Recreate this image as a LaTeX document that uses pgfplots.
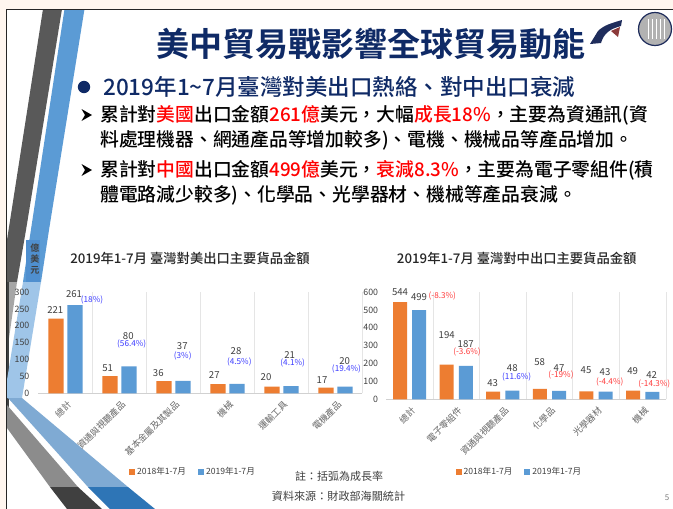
\documentclass[border=0pt]{standalone}
\usepackage{pgfplots}
\pgfplotsset{compat=1.18}
\usepackage{fontspec}
\setmainfont{Noto Sans CJK TC}[BoldFont={Noto Sans CJK TC Bold}]
\newfontfamily\med{Noto Sans CJK TC Medium}
\definecolor{navy}{HTML}{0F2A66}
\definecolor{orangeb}{HTML}{ED7D31}
\definecolor{blueb}{HTML}{5B9BD5}
\definecolor{txt}{HTML}{404040}
\definecolor{pblue}{HTML}{3B3BFF}
\definecolor{pred}{HTML}{FF3B3B}
\definecolor{cream}{HTML}{FFF6EF}
\definecolor{dgray}{HTML}{595959}
\definecolor{lgray}{HTML}{A6A6A6}
\definecolor{vdgray}{HTML}{404040}
\definecolor{lblue}{HTML}{9FC5E8}
\definecolor{mblue}{HTML}{4F8FCF}
\definecolor{fblue}{HTML}{7FAAD3}
\definecolor{sblue}{HTML}{2E75B6}
\definecolor{mgray}{HTML}{8C8C8C}
\definecolor{logob}{HTML}{1F2D5C}
\definecolor{logor}{HTML}{8C3A3A}
\newcommand{\dl}[3]{\node[font=\fontsize{9.6}{10}\selectfont,text=txt,inner sep=0pt] at (#1,#2) {#3};}
\newcommand{\pb}[3]{\node[font=\fontsize{8.2}{9}\selectfont,text=pblue,inner sep=0pt] at (#1,#2) {#3};}
\newcommand{\pr}[3]{\node[font=\fontsize{8.2}{9}\selectfont,text=pred,inner sep=0pt] at (#1,#2) {#3};}
\newcommand{\ar}[1]{\fill[black] (81.5,#1-6) -- (92,#1) -- (81.5,#1+6) -- (85,#1) -- cycle;}
\pgfplotsset{chart/.style={
  scale only axis, clip=false,
  axis x line*=bottom, axis y line*=left,
  x axis line style={draw=black!18,-},
  y axis line style={draw=none},
  xmin=-0.5,xmax=5.5,ymin=0,
  xtick={0,1,2,3,4,5},
  minor xtick={0.5,1.5,2.5,3.5,4.5,5.5},
  xminorgrids=true,
  minor grid style={draw=black!10,line width=0.7pt},
  major tick length=0pt, minor tick length=0pt,
  tick label style={text=txt},
  yticklabel style={font=\fontsize{8.8}{10}\selectfont,inner sep=0pt},
  xticklabel style={font=\fontsize{9}{10}\selectfont,text=black!60,yshift=-5pt,xshift=1pt,rotate=45,anchor=north east,inner sep=1pt},
  ytick style={draw=none},
  ybar,
  /pgf/number format/assume math mode=true,
  legend columns=2,
  legend style={draw=none,fill=none,font=\fontsize{8.6}{10}\selectfont,text=txt,
    /tikz/every even column/.append style={column sep=10pt}},
  legend image code/.code={\fill[##1] (0pt,-3pt) rectangle (6pt,3pt);},
}}
\begin{document}
\begin{tikzpicture}[x=1pt,y=-1pt]
\useasboundingbox (0,0) rectangle (673,509);
\fill[white] (0,0) rectangle (673,509);
\fill[cream] (0,0) rectangle (673,9);
\fill[cream] (0,0) rectangle (6,509);
% left decoration
\begin{scope}
\clip (7,9) rectangle (673,509);
\fill[dgray] (43,9) -- (62,9) -- (26,230) -- (17,282) -- (9,282) -- (7,282) -- (7,240) -- cycle;
\fill[lgray] (9,282) -- (17,282) -- (8,345) -- (7,345) -- cycle;
\fill[vdgray] (6,282) rectangle (8.5,428);
\fill[blueb] (64.5,9) -- (84.5,9) -- (49,230) -- (41,282) -- (23,282) -- cycle;
\fill[lblue] (23,282) -- (41,282) -- (22,398) -- (7,398) -- (7,380) -- cycle;
\fill[mblue] (26,240) rectangle (40,282);
\fill[fblue] (8,398) -- (22,398) -- (128,487) -- (88,487) -- cycle;
\fill[sblue] (88,487) -- (128,487) -- (155,509) -- (110,509) -- cycle;
\fill[mgray] (7,405) -- (7,428) -- (50,487) -- (78,487) -- cycle;
\fill[vdgray] (50,487) -- (78,487) -- (102,509) -- (67,509) -- cycle;
\end{scope}
\draw[black!85,line width=0.9pt] (6.5,509) -- (6.5,9.5) -- (673,9.5);
% logo
\fill[logob] (590,44) -- (598,31) .. controls (604,25) and (612,23) .. (622,20) -- (621,26) .. controls (610,29) and (604,33) .. (601,43) -- cycle;
\fill[logor] (611,31) -- (620,27) -- (618,37) -- cycle;
\filldraw[fill=black!30,draw=logob,line width=1.2pt] (655,29) circle (16.5);
\foreach \x in {648,652,656,660,664}{\draw[white,line width=1pt] (\x,19) -- (\x,39);}
% texts
\node[font=\fontsize{33}{36}\selectfont\bfseries,text=navy,inner sep=0pt] at (371,44) {美中貿易戰影響全球貿易動能};
\fill[navy] (84,87) circle (6.2);
\node[anchor=west,font=\fontsize{22.5}{24}\selectfont\med,text=navy,inner sep=0pt] at (103,87) {2019年1\textasciitilde 7月臺灣對美出口熱絡、對中出口衰減};
\ar{115}\ar{170}
\node[anchor=west,font=\fontsize{18.8}{20}\selectfont\med,inner sep=0pt] at (100,115) {累計對\textcolor{red}{美國}出口金額\textcolor{red}{261億}美元，大幅\textcolor{red}{成長18\%}，主要為資通訊(資};
\node[anchor=west,font=\fontsize{18.8}{20}\selectfont\med,inner sep=0pt] at (100,140) {料處理機器、網通產品等增加較多)、電機、機械品等產品增加。};
\node[anchor=west,font=\fontsize{18.8}{20}\selectfont\med,inner sep=0pt] at (100,170) {累計對\textcolor{red}{中國}出口金額\textcolor{red}{499億}美元，\textcolor{red}{衰減8.3\%}，主要為電子零組件(積};
\node[anchor=west,font=\fontsize{18.8}{20}\selectfont\med,inner sep=0pt] at (100,195) {體電路減少較多)、化學品、光學器材、機械等產品衰減。};
% chart titles
\node[font=\fontsize{13.3}{14}\selectfont\med,inner sep=0pt,text=black!85] at (190,258) {2019年1-7月 臺灣對美出口主要貨品金額};
\node[font=\fontsize{13.3}{14}\selectfont\med,inner sep=0pt,text=black!85] at (516.7,258) {2019年1-7月 臺灣對中出口主要貨品金額};
% unit
\foreach \t/\y in {億/248.3,美/259.3,元/270.7}{\node[font=\fontsize{9}{10}\selectfont\bfseries,text=txt,inner sep=0pt] at (35,\y) {\t};}
% left chart
\begin{axis}[chart,at={(38.5pt,-393.3pt)},anchor=south west,width=324pt,height=101.3pt,
  ymax=300,bar width=15.4pt,
  ytick={0,50,100,150,200,250,300},
  yticklabel style={xshift=-9pt},
  xticklabels={總計,資通與視聽產品,基本金屬及其製品,機械,運輸工具,電機產品},
  legend style={at={(0.477,-0.777)},anchor=center}]
\addplot[fill=orangeb,draw=none,bar shift=-9.5pt] coordinates {(0,221)(1,51)(2,36)(3,27)(4,20)(5,17)};
\addplot[fill=blueb,draw=none,bar shift=9.5pt] coordinates {(0,261)(1,80)(2,37)(3,28)(4,21)(5,20)};
\legend{2018年1-7月,2019年1-7月}
\end{axis}
% right chart
\begin{axis}[chart,at={(386.3pt,-399.3pt)},anchor=south west,width=279.7pt,height=107.3pt,
  ymax=600,bar width=14pt,
  ytick={0,100,200,300,400,500,600},
  yticklabel style={xshift=-8pt},
  xticklabels={總計,電子零組件,資通與視聽產品,化學品,光學器材,機械},
  legend style={at={(0.476,-0.675)},anchor=center}]
\addplot[fill=orangeb,draw=none,bar shift=-9.6pt] coordinates {(0,544)(1,194)(2,43)(3,58)(4,45)(5,49)};
\addplot[fill=blueb,draw=none,bar shift=9.6pt] coordinates {(0,499)(1,187)(2,48)(3,47)(4,43)(5,42)};
\legend{2018年1-7月,2019年1-7月}
\end{axis}
% data labels left
\dl{55.3}{310}{221}\dl{74}{293.7}{261}\pb{92}{300}{(18\%)}
\dl{107.7}{367.7}{51}\dl{128.3}{335.7}{80}\pb{131.7}{344}{(56.4\%)}
\dl{158.3}{372.7}{36}\dl{182.3}{345.7}{37}\pb{182.7}{356.3}{(3\%)}
\dl{214.3}{374.7}{27}\dl{236}{350.7}{28}\pb{239.3}{362}{(4.5\%)}
\dl{266}{377.3}{20}\dl{289.7}{354.7}{21}\pb{292.7}{363}{(4.1\%)}
\dl{322}{379.7}{17}\dl{344.7}{360.7}{20}\pb{346.5}{369.3}{(19.4\%)}
% data labels right
\dl{400}{291.7}{544}\dl{419}{296.7}{499}\pr{442.3}{296.3}{(-8.3\%)}
\dl{446.7}{334.7}{194}\dl{465.7}{343.7}{187}\pr{467}{352.3}{(-3.6\%)}
\dl{492.7}{382.7}{43}\dl{512.3}{367.7}{48}\pb{516.7}{377}{(11.6\%)}
\dl{539.7}{361.7}{58}\dl{559}{367.7}{47}\pr{561}{375}{(-19\%)}
\dl{586}{369.7}{45}\dl{605}{372}{43}\pr{609.7}{382.3}{(-4.4\%)}
\dl{632.7}{370.7}{49}\dl{651.7}{374.7}{42}\pr{654.3}{384.3}{(-14.3\%)}
% notes
\node[font=\fontsize{11}{12}\selectfont,text=txt,inner sep=0pt] at (339,476) {註：括弧為成長率};
\node[font=\fontsize{11.1}{12}\selectfont,text=txt,inner sep=0pt] at (338.5,496) {資料來源：財政部海關統計};
\node[font=\fontsize{8}{10}\selectfont,text=black!50,inner sep=0pt] at (667,498) {5};
\end{tikzpicture}
\end{document}
